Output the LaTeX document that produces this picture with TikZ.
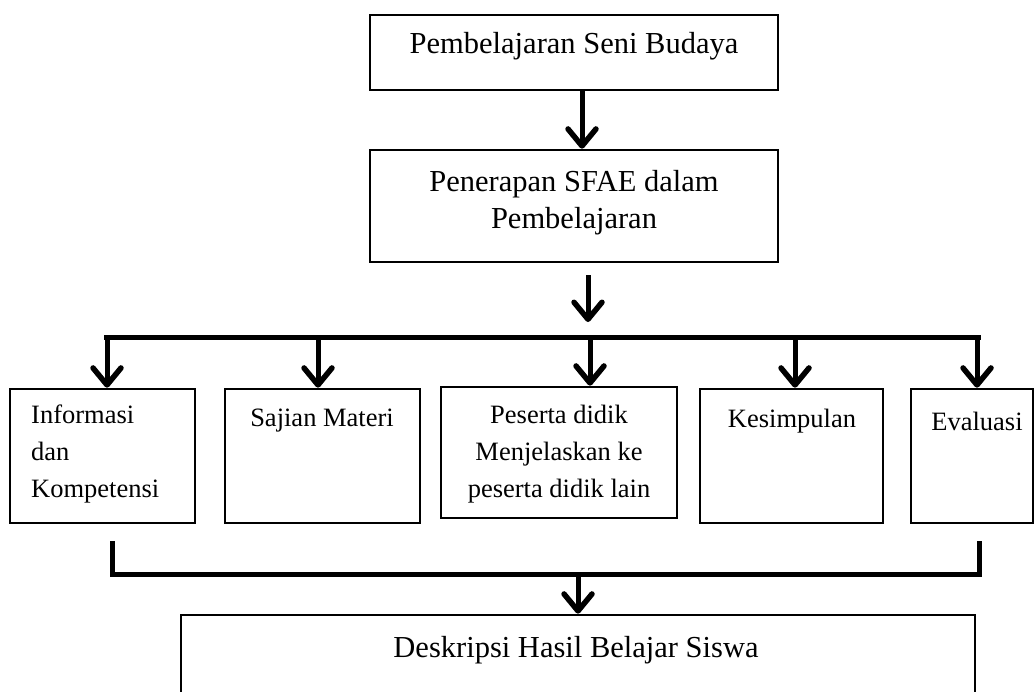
\documentclass[tikz,border=0pt]{standalone}
\usepackage{fontspec}
\setmainfont{Liberation Serif}
\usetikzlibrary{arrows.meta}
\tikzset{
  box/.style={draw, line width=2.6pt, inner sep=0pt},
  big/.style={font=\fontsize{30.5}{37}\selectfont, inner sep=0pt, align=center},
  small/.style={font=\fontsize{26.5}{37}\selectfont, inner sep=0pt, align=center},
  conn/.style={line width=5pt},
  arr/.style={line width=5pt, -{Straight Barb[length=17pt,width=28pt,line width=5.5pt,round]}},
}
\begin{document}
\begin{tikzpicture}[x=1pt,y=-1pt]
\clip (0,0) rectangle (1035,691);
\fill[white] (0,0) rectangle (1035,691);
% top boxes
\node[box, minimum width=408pt, minimum height=75pt] (t) at (574,52.5) {};
\node[big] (tl) at (574,46) {Pembelajaran Seni Budaya};
\node[box, minimum width=408pt, minimum height=112pt] (s) at (574,206) {};
\node[big] (sl) at (574,203) {Penerapan SFAE dalam\\Pembelajaran};
% row of boxes
\node[box, minimum width=185pt, minimum height=134pt] (b1) at (102.5,456) {};
\node[small, align=left, anchor=west] (b1l) at (31,454) {Informasi\\dan\\Kompetensi};
\node[box, minimum width=195pt, minimum height=134pt] (b2) at (322.5,456) {};
\node[small] (b2l) at (322,421) {Sajian Materi};
\node[box, minimum width=236pt, minimum height=131pt] (b3) at (559,452.5) {};
\node[small] (b3l) at (559,454) {Peserta didik\\Menjelaskan ke\\peserta didik lain};
\node[box, minimum width=183pt, minimum height=134pt] (b4) at (791.5,456) {};
\node[small] (b4l) at (792,421) {Kesimpulan};
\node[box, minimum width=122pt, minimum height=134pt] (b5) at (972,456) {};
\node[small] (b5l) at (977,421) {Evaluasi};
% bottom box
\node[box, minimum width=794pt, minimum height=150pt] (d) at (578,690) {};
\node[big] (dl) at (576,650) {Deskripsi Hasil Belajar Siswa};
% bus coordinates
\coordinate (busL) at (104,337.5);
\coordinate (busR) at (981,337.5);
\coordinate (a1) at (107,335);
\coordinate (a2) at (588,275);
\coordinate (botL) at (112,541);
\coordinate (botR) at (979,541);
\coordinate (botM) at (578,574);
% connectors
\draw[arr] ([xshift=8pt]t.south) -- ([xshift=8pt]s.north);
\draw[arr] (a2) -- ++(0,47);
\draw[conn] (busL) -- (busR);
\draw[arr] (a1) -- (a1 |- b1.north);
\draw[arr] ([xshift=-4.5pt]b2.north |- busL) -- ([xshift=-4.5pt]b2.north);
\draw[arr] ([xshift=31pt]b3.north |- busL) -- ([xshift=31pt]b3.north);
\draw[arr] ([xshift=3.5pt]b4.north |- busL) -- ([xshift=3.5pt]b4.north);
\draw[arr] ([xshift=5pt]b5.north |- busL) -- ([xshift=5pt]b5.north);
\draw[conn] (botL) |- (botM) -| (botR);
\draw[arr] (botM) -- (botM |- d.north);
\end{tikzpicture}
\end{document}
